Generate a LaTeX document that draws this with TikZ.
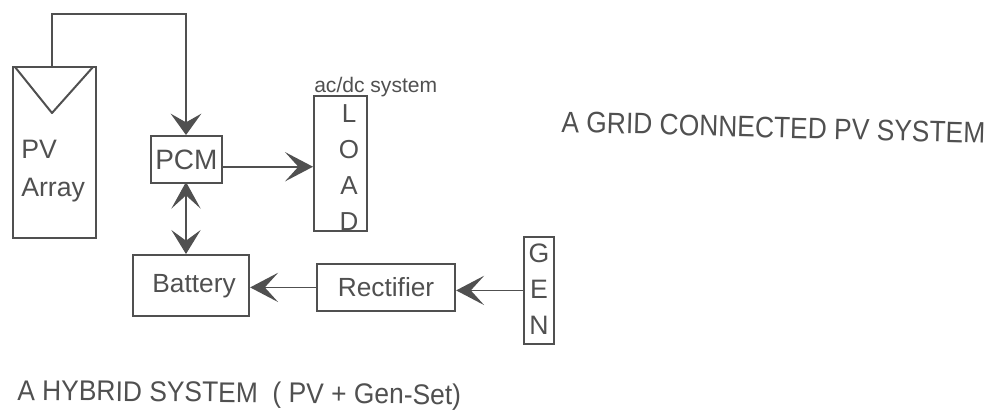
\documentclass[tikz,border=0pt]{standalone}
\usepackage{fontspec}
\setmainfont{Liberation Sans}
\usetikzlibrary{arrows.meta}
\definecolor{ink}{HTML}{505050}
\tikzset{
  box/.style={draw=ink,line width=1.6pt,inner sep=0pt,text=ink,font=\fontsize{19.7}{24}\selectfont,anchor=north west},
  lbl/.style={text=ink,inner sep=0pt},
  wire/.style={draw=ink,line width=1.2pt},
  head/.style={wire,-{Stealth[length=21pt,width=22pt,inset=10pt]}},
  shorthead/.style={wire,-{Stealth[length=16pt,width=23pt,inset=6.5pt]}},
  bihead/.style={draw=ink,line width=0.8pt,{Stealth[length=20pt,width=22pt,inset=10pt]}-{Stealth[length=18pt,width=22pt,inset=8pt]}}
}
\begin{document}
\begin{tikzpicture}[x=0.75pt,y=-0.75pt]
\useasboundingbox (0,0) rectangle (991,412);
\node[box,minimum width=62.2pt,minimum height=128pt] (pv) at (12,66) {};
\draw[wire,line width=1.5pt,line cap=round,line join=round] (pv.north west)++(3,1) coordinate (va) -- (52,113) coordinate (vb) -- (93,67) coordinate (vc);
\node[lbl,font=\fontsize{20}{28.5}\selectfont,align=left,anchor=north west] (pvt) at (21,140) {PV\\Array};
\node[box,minimum width=53pt,minimum height=35pt,font=\fontsize{21}{24}\selectfont] (pcm) at (150,135) {\raisebox{-3pt}{PCM}};
\node[box,minimum width=40pt,minimum height=101pt] (load) at (313,95) {};
\node[lbl,font=\fontsize{19.5}{27.2}\selectfont,align=center,anchor=north] (loadt) at (349,104) {L\\O\\A\\D};
\node[lbl,font=\fontsize{15.8}{18}\selectfont,anchor=base west] (sys) at (314,92) {ac/dc system};
\node[box,minimum width=87pt,minimum height=46pt] (bat) at (132,254) {\hspace*{4.5pt}\raisebox{-1.5pt}{Battery}};
\node[box,minimum width=103.5pt,minimum height=35pt] (rec) at (316,263) {Rectifier};
\node[box,minimum width=22.5pt,minimum height=80pt] (gen) at (523,236) {};
\node[lbl,font=\fontsize{20}{27}\selectfont,align=center,anchor=north] (gent) at (539,244) {G\\E\\N};
\coordinate (up) at (52,14);
\coordinate (over) at (186,14);
\draw[shorthead] (52,66) -- (up) -- (over) -- (186,135);
\draw[head] ([yshift=-5.5pt]pcm.east) -- ([yshift=-5.5pt]load.west |- pcm.east);
\draw[bihead] (186,182) -- (186,254);
\draw[head] (rec.west) -- (bat.east |- rec.west);
\draw[head] (gen.west) -- (rec.east |- gen.west);
\node[lbl,font=\fontsize{19.8}{24}\selectfont,anchor=base west,rotate=-1.5] (t1) at (561,132) {\scalebox{1}[1.12]{A GRID CONNECTED PV SYSTEM}};
\node[lbl,font=\fontsize{19.8}{24}\selectfont,anchor=base west,rotate=-0.6] (t2) at (17,400) {\scalebox{1}[1.08]{A HYBRID SYSTEM\ \ ( PV + Gen-Set)}};
\end{tikzpicture}
\end{document}
